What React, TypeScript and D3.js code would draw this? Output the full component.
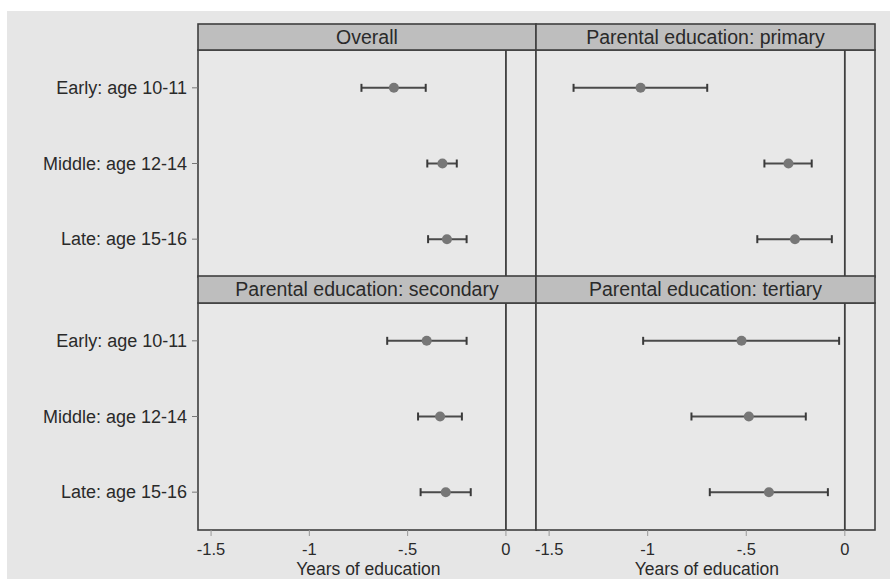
import React from 'react';
import * as d3 from 'd3';

const cohorts = ["Early: age 10-11", "Middle: age 12-14", "Late: age 15-16"];
const panelTitles = ["Overall", "Parental education: primary", "Parental education: secondary", "Parental education: tertiary"];
const xTicks = [-1.5, -1, -0.5, 0];

// point estimates and 95% bounds, per panel, in cohort order
const estimates = [
  [-0.57, -0.323, -0.30],
  [-1.036, -0.286, -0.253],
  [-0.403, -0.335, -0.306],
  [-0.524, -0.487, -0.385],
];
const lower = [
  [-0.735, -0.40, -0.396],
  [-1.376, -0.408, -0.444],
  [-0.604, -0.447, -0.434],
  [-1.023, -0.778, -0.685],
];
const upper = [
  [-0.408, -0.25, -0.20],
  [-0.698, -0.168, -0.066],
  [-0.20, -0.224, -0.179],
  [-0.029, -0.198, -0.086],
];

const W = 890, H = 579;
const cols = [{ x0: 198, x1: 536 }, { x0: 536, x1: 875 }];
const rows = [{ head: 24, top: 50, bottom: 277 }, { head: 276, top: 303, bottom: 530 }];
const font = "'Liberation Sans', Arial, sans-serif";
const frame = "#3f3f3f";

// stata style: "-.5", "0", "-1.5", plain hyphen
function tickFmt(v: number) {
  if (v === 0) return "0";
  return d3.format(".1~f")(v).replace("\u2212", "-").replace("0.", ".");
}

function Panel({ idx }: { idx: number }) {
  const c = cols[idx % 2];
  const r = rows[Math.floor(idx / 2)];
  const w = c.x1 - c.x0;
  const x = d3.scaleLinear().domain([-1.5665, 0.153]).range([c.x0, c.x1]);
  const y = d3.scalePoint<string>().domain(cohorts).range([r.top, r.bottom]).padding(0.5);
  const isLeft = idx % 2 === 0;
  const isBottom = idx >= 2;
  const cap = 4;
  return (
    <g>
      <rect x={c.x0} y={r.top} width={w} height={r.bottom - r.top} fill="#e8e8e8" stroke={frame} strokeWidth={1.6} />
      <rect x={c.x0} y={r.head} width={w} height={r.top - r.head} fill="#bebebe" stroke={frame} strokeWidth={1.6} />
      <text x={c.x0 + w / 2} y={r.head + 20} textAnchor="middle" fontFamily={font} fontSize={19.5} fill="#2a2a2a">
        {panelTitles[idx]}
      </text>
      <line x1={x(0)} x2={x(0)} y1={r.top} y2={r.bottom} stroke={frame} strokeWidth={1.8} />
      {cohorts.map((k, i) => {
        const yy = y(k)!;
        return (
          <g key={k}>
            <line x1={x(lower[idx][i])} x2={x(upper[idx][i])} y1={yy} y2={yy} stroke="#4a4a4a" strokeWidth={2} />
            <line x1={x(lower[idx][i])} x2={x(lower[idx][i])} y1={yy - cap} y2={yy + cap} stroke="#3a3a3a" strokeWidth={2} />
            <line x1={x(upper[idx][i])} x2={x(upper[idx][i])} y1={yy - cap} y2={yy + cap} stroke="#3a3a3a" strokeWidth={2} />
            <circle cx={x(estimates[idx][i])} cy={yy} r={5} fill="#777" />
            {isLeft && (
              <>
                <line x1={c.x0 - 6} x2={c.x0} y1={yy} y2={yy} stroke="#777" strokeWidth={1} />
                <text x={c.x0 - 11} y={yy + 6} textAnchor="end" fontFamily={font} fontSize={18} fill="#2a2a2a">{k}</text>
              </>
            )}
          </g>
        );
      })}
      {isBottom && (
        <g>
          {xTicks.map(t => (
            <g key={t}>
              <line x1={x(t)} x2={x(t)} y1={r.bottom} y2={r.bottom + 6} stroke="#999" strokeWidth={1} />
              <text x={x(t)} y={r.bottom + 25} textAnchor="middle" fontFamily={font} fontSize={16.5} fill="#2a2a2a">{tickFmt(t)}</text>
            </g>
          ))}
          <text x={x(-0.7)} y={r.bottom + 45} textAnchor="middle" fontFamily={font} fontSize={17.5} fill="#2a2a2a">Years of education</text>
        </g>
      )}
    </g>
  );
}

export default function App() {
  return (
    <div style={{ position: 'absolute', left: 0, top: 0 }}>
      <svg width={W} height={H} style={{ display: 'block' }}>
        <rect x={0} y={0} width={W} height={H} fill="#fff" />
        <rect x={7} y={11} width={W - 7} height={H - 11} fill="#e6e6e6" />
        {panelTitles.map((_, i) => <Panel key={i} idx={i} />)}
      </svg>
    </div>
  );
}
